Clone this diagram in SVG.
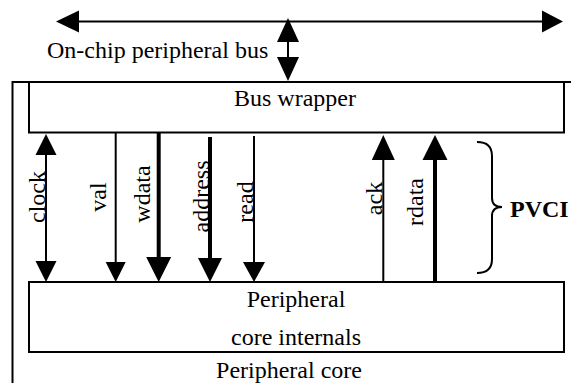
<svg xmlns="http://www.w3.org/2000/svg" width="571" height="383" viewBox="0 0 571 383">
<style>
  text { font-family: "Liberation Serif", "Times New Roman", serif; font-size: 24px; fill: #000; }
  .box { fill: #fff; stroke: #000; stroke-width: 2; }
  .thin { stroke: #000; stroke-width: 2; fill: none; }
  .thick { stroke: #000; stroke-width: 4; fill: none; }
  .head { fill: #000; stroke: none; }
  .mid { text-anchor: middle; }
</style>
<rect width="571" height="383" fill="#fff"/>
<g id="peripheral-core">
  <rect x="12.5" y="82" width="600" height="340" fill="none" stroke="#000" stroke-width="2"/>
  <text class="mid" x="289" y="378">Peripheral core</text>
</g>
<g id="bus-wrapper">
  <rect class="box" x="29" y="82" width="535" height="50.5"/>
  <text class="mid" x="295" y="106">Bus wrapper</text>
</g>
<g id="core-internals">
  <rect class="box" x="29" y="282" width="535" height="70"/>
  <text class="mid" x="296" y="307">Peripheral</text>
  <text class="mid" x="296" y="345">core internals</text>
</g>
<g id="bus">
  <text x="47" y="58">On-chip peripheral bus</text>
</g>
<g id="pvci">
  <path class="thin" d="M477,142 C487,142 492,146 492,156 L492,198 C492,204 496,207 502,207 C496,207 492,210 492,216 L492,259 C492,268 487,273 477,273"/>
  <text x="510" y="217" font-weight="bold" font-size="20">PVCI</text>
</g>
<g id="connectors">
  <line class="thin" x1="70" y1="21.5" x2="550" y2="21.5"/>
  <polygon class="head" points="56,21.5 79,10.5 79,32.5"/>
  <polygon class="head" points="563,21.5 542,10.5 542,32.5"/>
  <line class="thin" x1="288" y1="40" x2="288" y2="59"/>
  <polygon class="head" points="288,18 277,42 299,42"/>
  <polygon class="head" points="288,81 277,57 299,57"/>
  <line class="thin" x1="46" y1="150" x2="46" y2="265"/>
  <polygon class="head" points="46,134 35.5,155 56.5,155"/>
  <polygon class="head" points="46,282 35.5,261 56.5,261"/>
  <line class="thin" x1="115.7" y1="133" x2="115.7" y2="265"/>
  <polygon class="head" points="115.7,282 105.7,262 125.7,262"/>
  <line class="thick" x1="158.7" y1="133" x2="158.7" y2="260"/>
  <polygon class="head" points="158.7,282 146.2,257 171.2,257"/>
  <line class="thick" x1="210" y1="137" x2="210" y2="260"/>
  <polygon class="head" points="210,282 198,258 222,258"/>
  <line class="thin" x1="254" y1="136" x2="254" y2="265"/>
  <polygon class="head" points="254,282 243,262 265,262"/>
  <line class="thin" x1="383.3" y1="155" x2="383.3" y2="282"/>
  <polygon class="head" points="383.3,135 371.8,160 394.8,160"/>
  <line class="thick" x1="435" y1="155" x2="435" y2="282"/>
  <polygon class="head" points="435,135 422.5,160 447.5,160"/>
</g>
<g id="labels">
  <text class="mid" transform="translate(44.5,197) rotate(-90)">clock</text>
  <text class="mid" transform="translate(106,197) rotate(-90)">val</text>
  <text class="mid" transform="translate(150,194) rotate(-90)">wdata</text>
  <text class="mid" transform="translate(209,196.5) rotate(-90)">address</text>
  <text class="mid" transform="translate(253,202) rotate(-90)">read</text>
  <text class="mid" transform="translate(381.5,198.5) rotate(-90)">ack</text>
  <text class="mid" transform="translate(423,202) rotate(-90)">rdata</text>
</g>
</svg>
